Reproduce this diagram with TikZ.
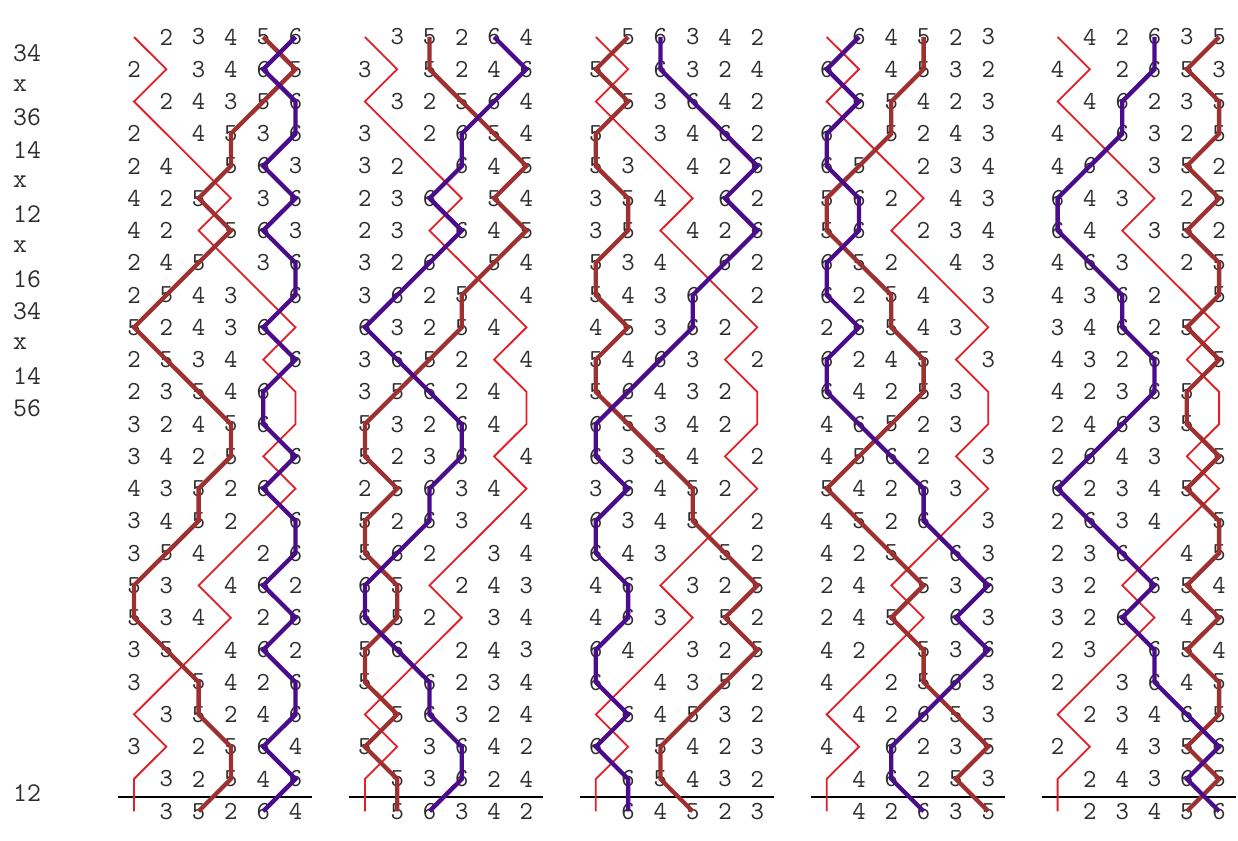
\documentclass[tikz,border=0pt]{standalone}
\usepackage{fontspec}
\definecolor{treblered}{RGB}{228,30,38}
\definecolor{bellbrown}{RGB}{158,48,48}
\definecolor{bellpurple}{RGB}{75,12,140}
\definecolor{digitgray}{RGB}{45,45,45}
% place notation changes
\def\pnX#1#2#3#4#5#6{#2#1#4#3#6#5}% x
\def\pnA#1#2#3#4#5#6{#2#1#3#4#6#5}% 34
\def\pnB#1#2#3#4#5#6{#2#1#3#5#4#6}% 36
\def\pnC#1#2#3#4#5#6{#1#3#2#4#6#5}% 14
\def\pnD#1#2#3#4#5#6{#1#2#4#3#6#5}% 12
\def\pnE#1#2#3#4#5#6{#1#3#2#5#4#6}% 16
\def\pnF#1#2#3#4#5#6{#2#1#4#3#5#6}% 56
\gdef\currow{123456}
\newcommand\bellcell[2]{%
  \coordinate (b\ld-\rw-#2) at ({134+230.9*\ld+32.3*(#1-1)},{37+32.26*\rw});
  \ifnum#2=1\relax\else\node[belldigit] (n\ld-\rw-#1) at (b\ld-\rw-#2) {#2};\fi}
\newcommand\drawbellrow[6]{\bellcell{1}{#1}\bellcell{2}{#2}\bellcell{3}{#3}\bellcell{4}{#4}\bellcell{5}{#5}\bellcell{6}{#6}}
\begin{document}
\begin{tikzpicture}[x=1pt,y=-1pt,
  belldigit/.style={inner sep=0pt,text=digitgray,font=\ttfamily\fontsize{26}{26}\selectfont},
  pnlabel/.style={inner sep=0pt,anchor=west,text=digitgray,font=\ttfamily\fontsize{27}{27}\selectfont},
  trebleline/.style={draw=treblered,line width=1.8pt},
  fiveline/.style={draw=bellbrown,line width=4.3pt},
  sixline/.style={draw=bellpurple,line width=4.3pt},
  leadrule/.style={draw=black,line width=2.4pt}]
\useasboundingbox[fill=white] (0,0) rectangle (1238,840);
% compute rows
\foreach \ld in {0,...,4}{%
  \expandafter\xdef\csname R\ld-0\endcsname{\currow}%
  \foreach \L [count=\rw] in {A,X,B,C,X,D,X,E,A,X,C,F,C,X,A,E,X,D,X,C,B,X,A,D}{%
    \xdef\currow{\csname pn\L\expandafter\endcsname\currow}%
    \expandafter\xdef\csname R\ld-\rw\endcsname{\currow}%
  }%
}
% place notation labels
\foreach \t [count=\i from 0] in {34,x,36,14,x,12,x,16,34,x,14,56}{
  \node[pnlabel] (pn\i) at (13,{53.1+32.26*\i}) {\t};
}
\node[pnlabel] (pnend) at (13,793) {12};
% digits and coordinates
\foreach \ld in {0,...,4}{
  \foreach \rw in {0,...,24}{
    \edef\thisrow{\csname R\ld-\rw\endcsname}%
    \expandafter\drawbellrow\thisrow
  }
  \coordinate (rl\ld) at ({118+230.9*\ld},797);
  \coordinate (rr\ld) at ({312+230.9*\ld},797);
  \draw[leadrule] (rl\ld) -- (rr\ld);
  \draw[trebleline] (b\ld-0-1) \foreach \rw in {1,...,24}{ -- (b\ld-\rw-1)};
  \draw[fiveline] (b\ld-0-5) \foreach \rw in {1,...,24}{ -- (b\ld-\rw-5)};
  \draw[sixline] (b\ld-0-6) \foreach \rw in {1,...,24}{ -- (b\ld-\rw-6)};
}
\end{tikzpicture}
\end{document}
